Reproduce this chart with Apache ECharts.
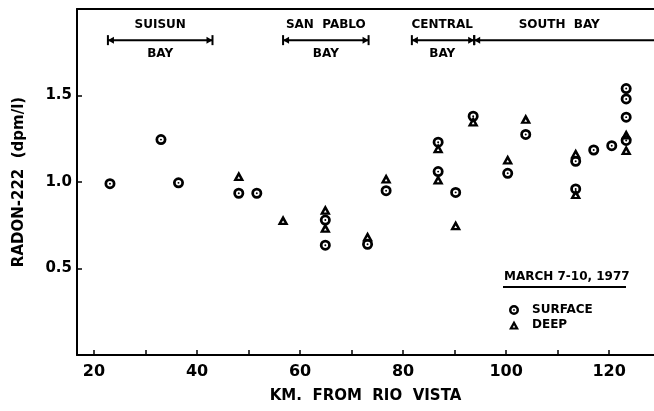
<!DOCTYPE html>
<html>
<head>
<meta charset="utf-8">
<script src="https://cdn.jsdelivr.net/npm/echarts@6/dist/echarts.min.js"></script>
<style>
html,body{margin:0;padding:0;background:#fff;}
#chart{width:654px;height:411px;}
</style>
</head>
<body>
<div id="chart"></div>
<script>
// ---- data ----
const surfaceKm    = [23.1, 33.0, 36.4, 48.1, 51.6, 64.9, 64.9, 73.1, 76.7, 86.8, 86.8, 90.2, 93.6, 100.3, 103.8, 113.5, 113.5, 117.0, 120.5, 123.3, 123.3, 123.3, 123.3];
const surfaceRadon = [0.99, 1.245, 0.995, 0.935, 0.935, 0.78, 0.635, 0.64, 0.95, 1.23, 1.06, 0.94, 1.38, 1.05, 1.275, 1.12, 0.96, 1.185, 1.21, 1.54, 1.48, 1.375, 1.24];
const deepKm       = [48.1, 56.7, 64.9, 64.9, 73.1, 76.7, 86.8, 86.8, 90.2, 93.6, 100.3, 103.8, 113.5, 113.5, 123.3, 123.3];
const deepRadon    = [1.035, 0.78, 0.84, 0.735, 0.685, 1.02, 1.195, 1.015, 0.75, 1.35, 1.13, 1.365, 1.165, 0.93, 1.275, 1.185];

const xTickValues  = [20, 30, 40, 50, 60, 70, 80, 90, 100, 110, 120];
const xLabelValues = [20, 40, 60, 80, 100, 120];
const yLabelValues = [0.5, 1.0, 1.5];

const regionTop    = ['SUISUN', 'SAN  PABLO', 'CENTRAL', 'SOUTH  BAY'];
const regionBottom = ['BAY', 'BAY', 'BAY', ''];
const regionStart  = [22.7, 56.7, 81.7, 93.8];
const regionEnd    = [43.0, 73.3, 93.8, 129.5];
const regionLabelKm = [32.85, 65.0, 87.6, 110.3];
const regionEndCap = [true, true, true, false];
const regionLevel  = 1.82;

const legendTitle = 'MARCH 7-10, 1977';

// ---- styles ----
const FONT = '"DejaVu Sans", sans-serif';
const circlePath = 'path://M0 5A5 5 0 1 1 10 5A5 5 0 1 1 0 5Z M2.5 5A2.5 2.5 0 1 0 7.5 5A2.5 2.5 0 1 0 2.5 5Z M4.1 5A0.9 0.9 0 1 1 5.9 5A0.9 0.9 0 1 1 4.1 5Z';
const trianglePath = 'path://M5 0L10 9L0 9Z M5 4.8L3.7 7L6.3 7Z';

const chart = echarts.init(document.getElementById('chart'), null, {renderer: 'canvas'});

const regionData = regionStart.map((s, i) => [s, regionEnd[i], i]);

function renderRegion(params, api) {
  const i = api.value(2);
  const p0 = api.coord([api.value(0), regionLevel]);
  const p1 = api.coord([api.value(1), regionLevel]);
  const y = p0[1];
  const ls = {stroke: '#000', lineWidth: 2};
  const children = [
    {type: 'line', shape: {x1: p0[0], y1: y, x2: p1[0], y2: y}, style: ls},
    {type: 'line', shape: {x1: p0[0], y1: y - 5, x2: p0[0], y2: y + 5}, style: ls},
    {type: 'polygon', shape: {points: [[p0[0], y], [p0[0] + 6, y - 3.5], [p0[0] + 6, y + 3.5]]}, style: {fill: '#000'}}
  ];
  if (regionEndCap[i]) {
    children.push({type: 'line', shape: {x1: p1[0], y1: y - 5, x2: p1[0], y2: y + 5}, style: ls});
    children.push({type: 'polygon', shape: {points: [[p1[0], y], [p1[0] - 6, y - 3.5], [p1[0] - 6, y + 3.5]]}, style: {fill: '#000'}});
  }
  const lc = api.coord([regionLabelKm[i], regionLevel]);
  children.push({type: 'text', x: lc[0], y: y - 15, style: {text: regionTop[i], fill: '#000', font: 'bold 12px ' + FONT, align: 'center', verticalAlign: 'middle'}});
  if (regionBottom[i]) {
    children.push({type: 'text', x: lc[0], y: y + 14, style: {text: regionBottom[i], fill: '#000', font: 'bold 12px ' + FONT, align: 'center', verticalAlign: 'middle'}});
  }
  return {type: 'group', children: children};
}

const option = {
  backgroundColor: '#fff',
  animation: false,
  grid: {left: 77, right: 0, top: 9, bottom: 56, containLabel: false},
  xAxis: [{
    type: 'value', min: 16.7, max: 128.7, position: 'bottom',
    axisLine: {show: true, onZero: false, lineStyle: {color: '#000', width: 2}},
    axisTick: {show: true, inside: true, length: 5, customValues: xTickValues, lineStyle: {color: '#000', width: 1.5}},
    axisLabel: {customValues: xLabelValues, color: '#000', fontSize: 16, fontWeight: 'bold', fontFamily: FONT, margin: 9},
    splitLine: {show: false},
    name: 'KM.  FROM  RIO  VISTA', nameLocation: 'middle', nameGap: 34,
    nameTextStyle: {color: '#000', fontSize: 15, fontWeight: 'bold', fontFamily: FONT}
  }, {
    type: 'value', min: 16.7, max: 128.7, position: 'top',
    axisLine: {show: true, onZero: false, lineStyle: {color: '#000', width: 2}},
    axisTick: {show: false}, axisLabel: {show: false}, splitLine: {show: false}
  }],
  yAxis: {
    type: 'value', min: 0, max: 2,
    axisLine: {show: true, onZero: false, lineStyle: {color: '#000', width: 2}},
    axisTick: {show: true, inside: true, length: 5, customValues: yLabelValues, lineStyle: {color: '#000', width: 1.5}},
    axisLabel: {customValues: yLabelValues, formatter: v => v.toFixed(1), color: '#000', fontSize: 15, fontWeight: 'bold', fontFamily: FONT, margin: 5},
    splitLine: {show: false},
    name: 'RADON-222  (dpm/l)', nameLocation: 'middle', nameGap: 50, nameRotate: 90,
    nameTextStyle: {color: '#000', fontSize: 15, fontWeight: 'bold', fontFamily: FONT}
  },
  legend: {
    orient: 'vertical', left: 504, top: 299, itemWidth: 10, itemHeight: 10, itemGap: 3,
    data: ['SURFACE', 'DEEP'],
    textStyle: {color: '#000', fontSize: 12, fontWeight: 'bold', fontFamily: FONT, padding: [0, 0, 0, 8]}
  },
  graphic: [
    {type: 'text', left: 504, top: 271, style: {text: legendTitle, fill: '#000', font: 'bold 12px ' + FONT}},
    {type: 'line', shape: {x1: 503, y1: 287, x2: 626, y2: 287}, style: {stroke: '#000', lineWidth: 2}}
  ],
  series: [
    {
      name: 'SURFACE', type: 'scatter', symbol: circlePath, symbolSize: 11,
      itemStyle: {color: '#000', opacity: 1},
      data: surfaceKm.map((x, i) => [x, surfaceRadon[i]])
    },
    {
      name: 'DEEP', type: 'scatter', symbol: trianglePath, symbolSize: [11, 10],
      itemStyle: {color: '#000', opacity: 1},
      data: deepKm.map((x, i) => [x, deepRadon[i]])
    },
    {
      type: 'custom', renderItem: renderRegion, clip: false, silent: true,
      encode: {x: [0, 1]}, data: regionData
    }
  ]
};
chart.setOption(option);
</script>
</body>
</html>
